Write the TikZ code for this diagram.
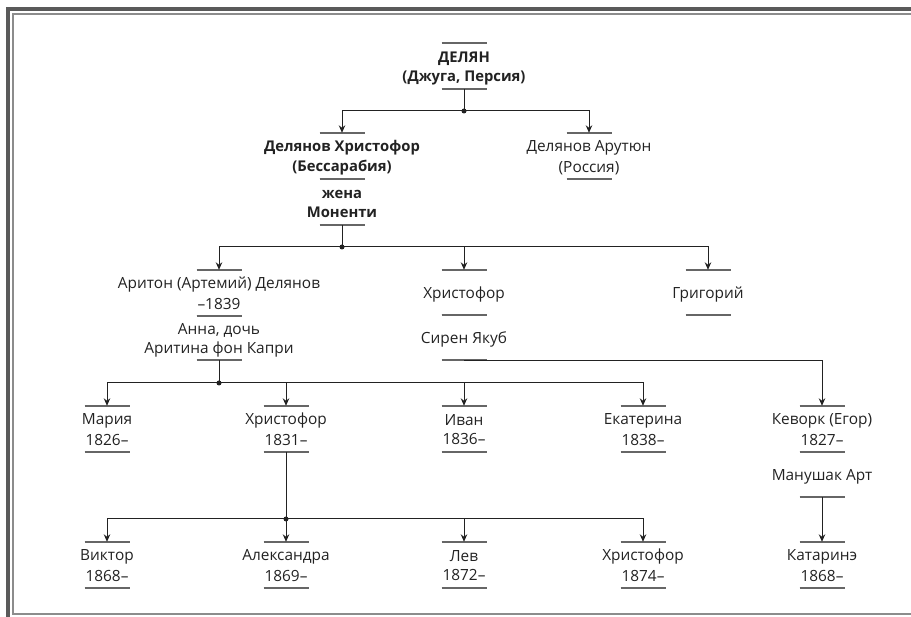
\documentclass[tikz,border=0pt]{standalone}
\usepackage{fontspec}
\setmainfont{Open Sans}
\usetikzlibrary{arrows.meta}
\definecolor{ink}{HTML}{222222}
\definecolor{barc}{HTML}{666666}
\definecolor{frameo}{HTML}{5A5A5A}
\definecolor{framei}{HTML}{8C8C8C}
\newcommand\mystrutx{\rule[-3.5pt]{0pt}{19pt}}
\begin{document}
\begin{tikzpicture}[x=1pt,y=-1pt,
 person/.style={inner sep=0pt, minimum height=46pt, align=center, text=ink, font=\fontsize{15.4}{19}\selectfont},
 single/.style={person, minimum height=45pt},
 boldp/.style={person, font=\fontsize{14.8}{19}\selectfont\bfseries},
 bar/.style={draw=barc, line width=1.8pt},
 conn/.style={draw=ink, line width=1pt},
 arr/.style={conn, -{Stealth[length=7.5pt,width=6.5pt]}},
 dot/.style={fill=ink}]
\useasboundingbox (0,0) rectangle (911,617);
% frame
\draw[frameo, line width=4pt] (8,617) -- (8,9) -- (911,9);
\draw[framei, line width=2pt] (911,14) -- (13,14) -- (13,614) -- (911,614);
% people
\node[boldp] (delyan) at (464,66) {\mystrutx ДЕЛЯН\\\mystrutx (Джуга, Персия)};
\node[boldp] (hr1) at (342,156) {\mystrutx Делянов Христофор\\\mystrutx (Бессарабия)};
\node[boldp] (zhena) at (342,202) {\mystrutx жена\\\mystrutx Моненти};
\node[person] (arut) at (589,156) {\mystrutx Делянов Арутюн\\\mystrutx (Россия)};
\node[person] (ariton) at (219,293) {\mystrutx Аритон (Артемий) Делянов\\\mystrutx –1839};
\node[person, minimum height=44pt] (anna) at (219,338) {\mystrutx Анна, дочь\\\mystrutx Аритина фон Капри};
\node[single] (hr2) at (464,292.5) {\mystrutx Христофор};
\node[single] (siren) at (464,337.5) {\mystrutx Сирен Якуб};
\node[single] (grig) at (708,292.5) {\mystrutx Григорий};
\node[person] (maria) at (107,429) {\mystrutx Мария\\\mystrutx 1826–};
\node[person] (hr3) at (286,429) {\mystrutx Христофор\\\mystrutx 1831–};
\node[person] (ivan) at (464,429) {\mystrutx Иван\\\mystrutx 1836–};
\node[person] (ekat) at (643,429) {\mystrutx Екатерина\\\mystrutx 1838–};
\node[person] (kevork) at (822,429) {\mystrutx Кеворк (Егор)\\\mystrutx 1827–};
\node[single] (manush) at (822,474.5) {\mystrutx Манушак Арт};
\node[person] (viktor) at (107,565) {\mystrutx Виктор\\\mystrutx 1868–};
\node[person] (alex) at (286,565) {\mystrutx Александра\\\mystrutx 1869–};
\node[person] (lev) at (464,565) {\mystrutx Лев\\\mystrutx 1872–};
\node[person] (hr4) at (643,565) {\mystrutx Христофор\\\mystrutx 1874–};
\node[person] (katar) at (822,565) {\mystrutx Катаринэ\\\mystrutx 1868–};
% bars
\foreach \n in {delyan,hr1,zhena,arut,ariton,anna,hr2,siren,grig,maria,hr3,ivan,ekat,kevork,manush,viktor,alex,lev,hr4,katar}
  \draw[bar] ([xshift=-22.5pt]\n.north) -- ([xshift=22.5pt]\n.north)
             ([xshift=-22.5pt]\n.south) -- ([xshift=22.5pt]\n.south);
% junctions
\coordinate (j1) at (464,111);
\coordinate (j2) at (342,247);
\coordinate (j3) at (219,383);
\coordinate (j4) at (286,519);
% connectors
\draw[conn] (delyan.south) -- (j1);
\draw[arr] (j1) -| (hr1.north);
\draw[arr] (j1) -| (arut.north);
\draw[conn] (zhena.south) -- (j2);
\draw[arr] (j2) -| (ariton.north);
\draw[arr] (j2) -| (hr2.north);
\draw[arr] (j2) -| (grig.north);
\draw[conn] (anna.south) -- (j3);
\draw[arr] (j3) -| (maria.north);
\draw[arr] (j3) -| (hr3.north);
\draw[arr] (j3) -| (ivan.north);
\draw[arr] (j3) -| (ekat.north);
\draw[arr] (siren.south) -| (kevork.north);
\draw[conn] (hr3.south) -- (j4);
\draw[arr] (j4) -| (viktor.north);
\draw[arr] (j4) -- (alex.north);
\draw[arr] (j4) -| (lev.north);
\draw[arr] (j4) -| (hr4.north);
\draw[arr] (manush.south) -- (katar.north);
\foreach \j in {j1,j2,j3,j4} \fill[dot] (\j) circle (2.5pt);
\end{tikzpicture}
\end{document}
